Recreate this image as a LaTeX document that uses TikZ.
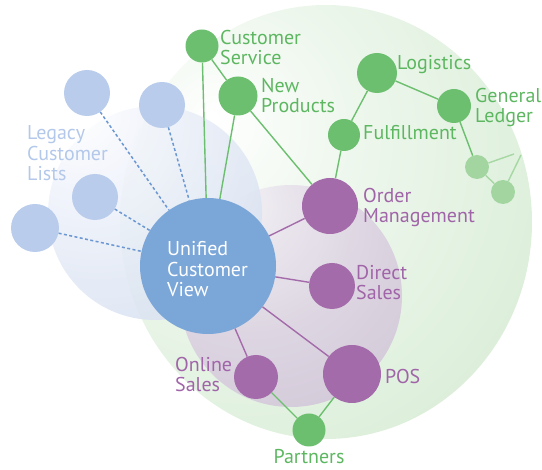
\documentclass[tikz,border=0pt]{standalone}
\usepackage{fontspec}
\setmainfont{PT Sans}
\definecolor{gnode}{HTML}{6CBF6F}
\definecolor{gtext}{HTML}{5DB761}
\definecolor{glight}{HTML}{A2D5A0}
\definecolor{glightline}{HTML}{A6D8A4}
\definecolor{pnode}{HTML}{A46BAB}
\definecolor{ptext}{HTML}{A064A8}
\definecolor{ucvblue}{HTML}{7BA6D8}
\definecolor{legblue}{HTML}{B9CCEB}
\definecolor{legtext}{HTML}{B3C8EA}
\definecolor{dashblue}{HTML}{6B97D3}
\definecolor{gfA}{HTML}{EEF7ED}
\definecolor{gfB}{HTML}{DAEED8}
\definecolor{gfC}{HTML}{CBE6C9}
\definecolor{bfA}{HTML}{EEF2FA}
\definecolor{bfB}{HTML}{D3DDEF}
\definecolor{bfC}{HTML}{B6C3DF}
\definecolor{pfA}{HTML}{F2EFF4}
\definecolor{pfB}{HTML}{DDD4E2}
\definecolor{pfC}{HTML}{C6B8CF}
\pgfdeclareradialshading{greenball}{\pgfpoint{-14bp}{12bp}}{color(0bp)=(white); color(15bp)=(gfA); color(40bp)=(gfB); color(62bp)=(gfC); color(100bp)=(gfC)}
\pgfdeclareradialshading{blueball}{\pgfpoint{-20bp}{26bp}}{color(0bp)=(white); color(18bp)=(bfA); color(50bp)=(bfB); color(78bp)=(bfC); color(100bp)=(bfC)}
\pgfdeclareradialshading{purpleball}{\pgfpoint{-12bp}{22bp}}{color(0bp)=(pfA); color(25bp)=(pfB); color(62bp)=(pfC); color(100bp)=(pfC)}
\tikzset{
  bubble/.style={circle,inner sep=0pt,draw=none},
  gbub/.style={bubble,fill=gnode},
  glbub/.style={bubble,fill=glight},
  pbub/.style={bubble,fill=pnode},
  lbub/.style={bubble,fill=legblue},
  gline/.style={draw=gnode,line width=1.4pt},
  glline/.style={draw=glightline,line width=1.4pt},
  pline/.style={draw=pnode,line width=1.4pt},
  dline/.style={draw=dashblue,line width=1.5pt,dash pattern=on 3pt off 2.4pt},
  lbl/.style={inner sep=0pt,align=left,anchor=base west,font=\fontsize{20}{20.5}\selectfont},
  glbl/.style={lbl,text=gtext},
  plbl/.style={lbl,text=ptext},
}
\begin{document}
\begin{tikzpicture}[x=1pt,y=-1pt]
\useasboundingbox (0,0) rectangle (542,470);
% background spheres
\shade[shading=greenball] (326,222) ellipse [x radius=206pt, y radius=217pt];
\shade[shading=purpleball,opacity=0.92] (291,296) circle [radius=111pt];
\shade[shading=blueball,opacity=0.85] (155,213) circle [radius=107pt];
% nodes
\node[lbub,minimum size=46pt] (l1) at (87,93) {};
\node[lbub,minimum size=46pt] (l2) at (162,105) {};
\node[lbub,minimum size=46pt] (l3) at (95,197) {};
\node[lbub,minimum size=48pt] (l4) at (35,228) {};
\node[bubble,fill=ucvblue,minimum size=136pt] (ucv) at (208,266) {};
\node[gbub,minimum size=33pt] (cs) at (202,46) {};
\node[gbub,minimum size=39pt] (np) at (238,96) {};
\node[gbub,minimum size=40pt] (log) at (377,73) {};
\node[gbub,minimum size=34pt] (gl) at (454,106) {};
\node[gbub,minimum size=32pt] (ful) at (344,135) {};
\node[glbub,minimum size=24pt] (s1) at (477,167) {};
\node[glbub,minimum size=24pt] (s2) at (503,192) {};
\coordinate (e1) at (514,154);
\coordinate (e2) at (521,155);
\node[pbub,minimum size=56pt] (om) at (330,206) {};
\node[pbub,minimum size=46pt] (ds) at (332,286) {};
\node[pbub,minimum size=58pt] (pos) at (352,374) {};
\node[pbub,minimum size=44pt] (os) at (256,377) {};
\node[gbub,minimum size=33pt] (pa) at (309,430) {};
% connectors
\draw[dline] (l1) -- (ucv);
\draw[dline] (l2) -- (ucv);
\draw[dline] (l3) -- (ucv);
\draw[dline] (l4) -- (ucv);
\draw[gline] (cs) -- (ucv);
\draw[gline] (np) -- (ucv);
\draw[gline] (cs) -- (np);
\draw[gline] (np) -- (om);
\draw[gline] (ful) -- (om);
\draw[gline] (ful) -- (log);
\draw[gline] (log) -- (gl);
\draw[gline] (gl) -- (s1);
\draw[glline] (s1) -- (s2);
\draw[glline] (s1) -- (e1);
\draw[glline] (s2) -- (e2);
\draw[pline] (ucv) -- (om);
\draw[pline] (ucv) -- (ds);
\draw[pline] (ucv) -- (pos);
\draw[pline] (ucv) -- (os);
\draw[gline] (os) -- (pa);
\draw[gline] (pos) -- (pa);
% labels (base anchor = last line)
\node[lbl,text=legtext] (tleg) at (27,181) {Legacy\\Customer\\Lists};
\node[lbl,text=white] (tucv) at (167,297) {Unified\\Customer\\View};
\node[glbl] (tcs) at (220,65) {Customer\\Service};
\node[glbl] (tnp) at (261,113) {New\\Products};
\node[glbl] (tlog) at (397,70) {Logistics};
\node[glbl] (tgl) at (475,123) {General\\Ledger};
\node[glbl] (tful) at (363,140) {Fulfillment};
\node[plbl] (tom) at (363,223) {Order\\Management};
\node[plbl] (tds) at (356,300) {Direct\\Sales};
\node[plbl] (tpos) at (385,384) {POS};
\node[plbl] (tos) at (175,392) {Online\\Sales};
\node[glbl,anchor=base] (tpa) at (309,464) {Partners};
\end{tikzpicture}
\end{document}
